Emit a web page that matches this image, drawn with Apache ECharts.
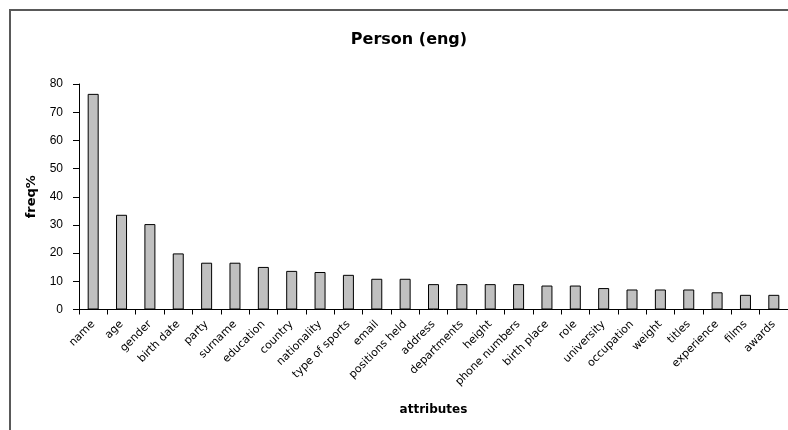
<!DOCTYPE html>
<html>
<head>
<meta charset="utf-8">
<script src="https://cdn.jsdelivr.net/npm/echarts@6/dist/echarts.min.js"></script>
<style>
  html, body { margin: 0; padding: 0; background: #fff; }
  #chart { width: 788px; height: 430px; }
</style>
</head>
<body>
<div id="chart"></div>
<script>
// Attribute names, ordered by frequency
const attributes = [
  'name', 'age', 'gender', 'birth date', 'party', 'surname', 'education',
  'country', 'nationality', 'type of sports', 'email', 'positions held',
  'address', 'departments', 'height', 'phone numbers', 'birth place', 'role',
  'university', 'occupation', 'weight', 'titles', 'experience', 'films', 'awards'
];

// Frequency (%) of each attribute
const freqPercent = [
  76.5, 33.6, 30.3, 19.9, 16.6, 16.6, 15.1,
  13.7, 13.3, 12.3, 10.9, 10.9,
  9.0, 9.0, 9.0, 9.0, 8.5, 8.5,
  7.6, 7.1, 7.1, 7.1, 6.1, 5.2, 5.2
];

// Value axis ticks
const yTicks = [0, 10, 20, 30, 40, 50, 60, 70, 80];

const chart = echarts.init(document.getElementById('chart'), null, { renderer: 'canvas' });

chart.setOption({
  backgroundColor: '#ffffff',
  animation: false,
  title: {
    text: 'Person (eng)',
    left: 404,
    top: 27,
    textAlign: 'center',
    textStyle: {
      fontFamily: 'DejaVu Sans',
      fontWeight: 'bold',
      fontSize: 16,
      color: '#000'
    }
  },
  graphic: [{
    type: 'rect',
    silent: true,
    shape: { x: 10, y: 10, width: 900, height: 500 },
    style: { fill: 'none', stroke: '#595959', lineWidth: 2 }
  }],
  grid: { left: 79, top: 84, right: -3, bottom: 120.5, containLabel: false },
  xAxis: {
    type: 'category',
    data: attributes,
    boundaryGap: true,
    name: 'attributes',
    nameLocation: 'middle',
    nameGap: 94,
    nameTextStyle: {
      fontFamily: 'DejaVu Sans',
      fontWeight: 'bold',
      fontSize: 12,
      color: '#000'
    },
    axisLine: { lineStyle: { color: '#000', width: 1 } },
    axisTick: { show: true, inside: false, length: 5, alignWithLabel: false, lineStyle: { color: '#000' } },
    axisLabel: {
      interval: 0,
      rotate: 45,
      margin: 13,
      fontFamily: 'DejaVu Sans',
      fontSize: 11,
      color: '#000'
    },
    splitLine: { show: false }
  },
  yAxis: {
    type: 'value',
    min: yTicks[0],
    max: yTicks[yTicks.length - 1],
    interval: 10,
    name: 'freq%',
    nameLocation: 'middle',
    nameGap: 41,
    nameRotate: 90,
    nameTextStyle: {
      fontFamily: 'DejaVu Sans',
      fontWeight: 'bold',
      fontSize: 13,
      color: '#000'
    },
    axisLine: { show: true, lineStyle: { color: '#000', width: 1 } },
    axisTick: { show: true, inside: false, length: 6, lineStyle: { color: '#000' } },
    axisLabel: {
      margin: 16,
      fontFamily: 'Liberation Sans',
      fontSize: 12,
      color: '#000'
    },
    splitLine: { show: false }
  },
  series: [{
    type: 'bar',
    data: freqPercent,
    barWidth: 11,
    itemStyle: {
      color: '#c0c0c0',
      borderColor: '#000',
      borderWidth: 1
    }
  }]
});
</script>
</body>
</html>
